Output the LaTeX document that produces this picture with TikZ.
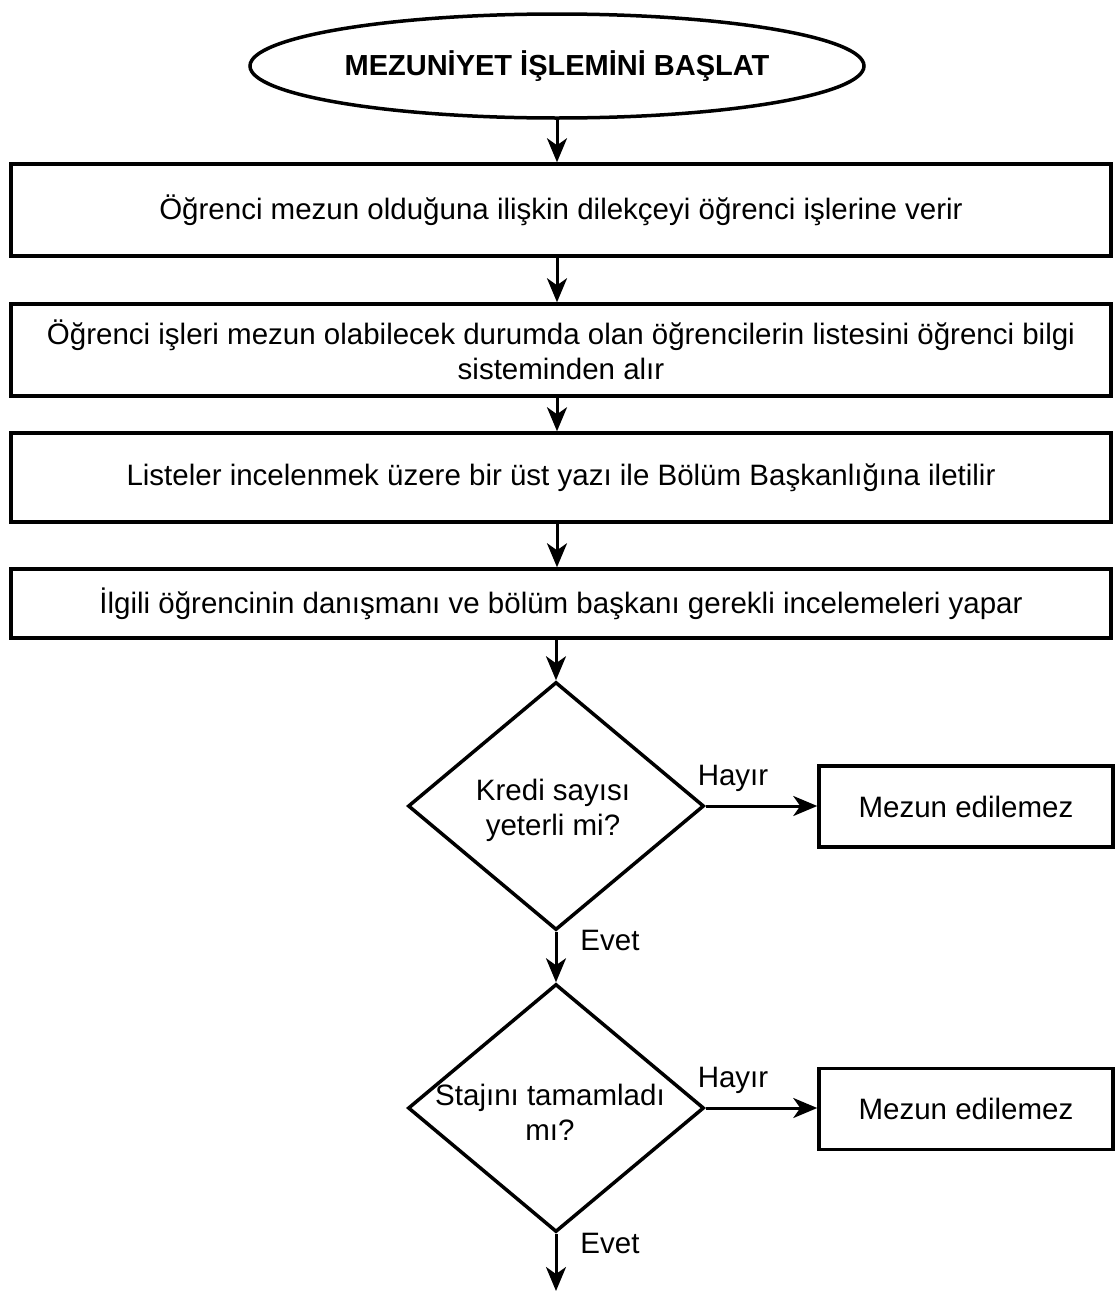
\documentclass[tikz,border=0pt]{standalone}
\usepackage{fontspec}
\setmainfont{Liberation Sans}
\usetikzlibrary{shapes.geometric,arrows.meta}
\begin{document}
\begin{tikzpicture}[x=1pt,y=-1pt,
  every node/.style={font=\fontsize{29.5}{35}\selectfont, inner sep=0pt},
  shapeline/.style={draw=black, line width=3.5pt},
  procbox/.style={shapeline, rectangle, minimum width=1100pt, align=center},
  nobox/.style={shapeline, rectangle, minimum width=294pt, minimum height=81pt},
  decision/.style={shapeline, diamond, minimum width=296pt, minimum height=248pt},
  flow/.style={line width=3pt, -{Stealth[length=24pt,width=20pt,inset=7pt]}},
  lbl/.style={}
]
\useasboundingbox (0,0) rectangle (1116,1293);

\node[shapeline, ellipse, minimum width=614pt, minimum height=104pt, font=\fontsize{29}{35}\selectfont\bfseries] (start) at (557,66) {MEZUNİYET İŞLEMİNİ BAŞLAT};

\node[procbox, minimum height=92pt] (b1) at (561,210) {Öğrenci mezun olduğuna ilişkin dilekçeyi öğrenci işlerine verir};
\node[procbox, minimum height=92pt] (b2) at (561,350) {Öğrenci işleri mezun olabilecek durumda olan öğrencilerin listesini öğrenci bilgi\\sisteminden alır};
\node[procbox, minimum height=89pt] (b3) at (561,477.5) {Listeler incelenmek üzere bir üst yazı ile Bölüm Başkanlığına iletilir};
\node[procbox, minimum height=69pt] (b4) at (561,603.5) {İlgili öğrencinin danışmanı ve bölüm başkanı gerekli incelemeleri yapar};

\node[decision] (d1) at (556,806) {};
\node[align=center] (d1t) at (553,810) {Kredi sayısı\\yeterli mi?};
\node[nobox] (n1) at (966,806.5) {Mezun edilemez};

\node[decision] (d2) at (556,1108) {};
\node[align=center] (d2t) at (550,1112) {Stajını tamamladı\\mı?};
\node[nobox] (n2) at (966,1109) {Mezun edilemez};

\coordinate (end) at (556,1291);

\node[lbl] (h1) at (733,778) {Hayır};
\node[lbl] (e1) at (610,940) {Evet};
\node[lbl] (h2) at (733,1080) {Hayır};
\node[lbl] (e2) at (610,1243) {Evet};

\draw[flow] (start.south) -- (start.south |- b1.north);
\draw[flow] (start.south |- b1.south) -- (start.south |- b2.north);
\draw[flow] (start.south |- b2.south) -- (start.south |- b3.north);
\draw[flow] (start.south |- b3.south) -- (start.south |- b4.north);
\draw[flow] (d1.north |- b4.south) -- (d1.north);
\draw[flow] (d1.east) -- (n1.west |- d1.east);
\draw[flow] (d1.south) -- (d2.north);
\draw[flow] (d2.east) -- (n2.west |- d2.east);
\draw[flow] (d2.south) -- (end);
\end{tikzpicture}
\end{document}
